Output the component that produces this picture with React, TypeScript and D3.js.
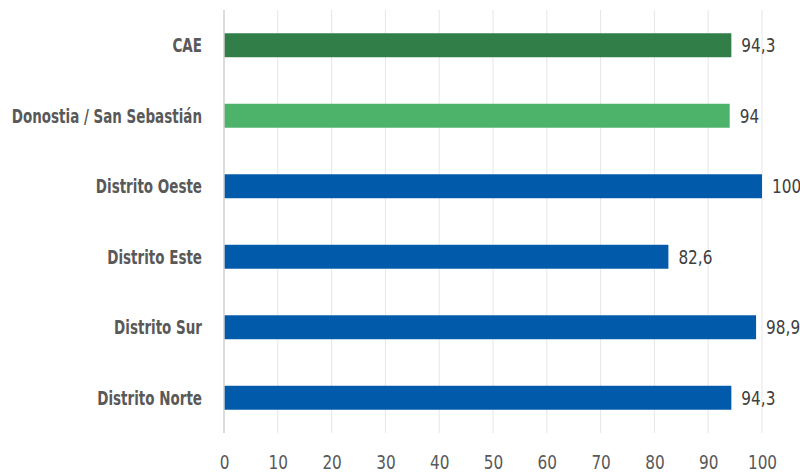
import React, { useRef, useEffect } from "react";
import * as d3 from "d3";

const categories = [
  "CAE",
  "Donostia / San Sebastián",
  "Distrito Oeste",
  "Distrito Este",
  "Distrito Sur",
  "Distrito Norte",
];
const values = [94.3, 94, 100, 82.6, 98.9, 94.3];
const barColors = ["#317E48", "#4DB36A", "#015BAA", "#015BAA", "#015BAA", "#015BAA"];
const xTicks = [0, 10, 20, 30, 40, 50, 60, 70, 80, 90, 100];

const FONT = "'DejaVu Sans Condensed', 'DejaVu Sans', sans-serif";
// the reference uses a narrow face, so squeeze the text horizontally
const LABEL_SQUEEZE = 0.75;
const NUM_SQUEEZE = 0.85;

const App = () => {
  const ref = useRef<SVGSVGElement | null>(null);

  useEffect(() => {
    if (!ref.current) return;
    const svg = d3.select(ref.current);
    svg.selectAll("*").remove();

    const margin = { top: 10, right: 38, bottom: 39, left: 224 };
    const width = 800 - margin.left - margin.right;
    const height = 472 - margin.top - margin.bottom;

    const chart = svg
      .append("g")
      .attr("transform", `translate(${margin.left},${margin.top})`);

    const x = d3.scaleLinear().domain([0, 100]).range([0, width]);
    const y = d3
      .scaleBand()
      .domain(categories)
      .range([0, height])
      .paddingInner(0.66)
      .paddingOuter(0.33);

    // grid lines
    chart
      .append("g")
      .selectAll("line")
      .data(xTicks.slice(1))
      .enter()
      .append("line")
      .attr("x1", (d) => x(d))
      .attr("x2", (d) => x(d))
      .attr("y1", 0)
      .attr("y2", height)
      .attr("stroke", "#E6E6E6")
      .attr("stroke-width", 1);

    // bars
    chart
      .selectAll(".bar")
      .data(values)
      .enter()
      .append("rect")
      .attr("class", "bar")
      .attr("x", 0)
      .attr("y", (_, i) => y(categories[i]) || 0)
      .attr("width", (d) => x(d))
      .attr("height", y.bandwidth())
      .attr("fill", (_, i) => barColors[i]);

    // axis line
    chart
      .append("line")
      .attr("x1", 0)
      .attr("x2", 0)
      .attr("y1", 0)
      .attr("y2", height)
      .attr("stroke", "#D0D0D0")
      .attr("stroke-width", 1.5);

    // value labels
    chart
      .selectAll(".val")
      .data(values)
      .enter()
      .append("text")
      .attr(
        "transform",
        (d, i) =>
          `translate(${x(d) + 10},${(y(categories[i]) || 0) + y.bandwidth() / 2}) scale(${NUM_SQUEEZE},1)`
      )
      .attr("dy", "0.36em")
      .style("font-family", FONT)
      .style("font-size", "20px")
      .style("fill", "#404040")
      .text((d) => String(d).replace(".", ","));

    // category labels
    chart
      .append("g")
      .call(d3.axisLeft(y).tickSize(0))
      .call((g) => g.select(".domain").remove())
      .selectAll("text")
      .attr("x", null)
      .attr("dy", "0.36em")
      .attr("transform", `translate(-22,0) scale(${LABEL_SQUEEZE},1)`)
      .style("font-family", FONT)
      .style("font-size", "20px")
      .style("font-weight", "bold")
      .style("fill", "#595959");

    // x axis
    chart
      .append("g")
      .attr("transform", `translate(0,${height})`)
      .call(d3.axisBottom(x).tickValues(xTicks).tickSize(0))
      .call((g) => g.select(".domain").remove())
      .selectAll("text")
      .attr("y", null)
      .attr("dy", null)
      .attr("transform", `translate(0,36) scale(${NUM_SQUEEZE},1)`)
      .style("font-family", FONT)
      .style("font-size", "20px")
      .style("fill", "#595959");
  }, []);

  return (
    <svg
      ref={ref}
      width={800}
      height={472}
      style={{ position: "absolute", left: 0, top: 0, background: "#fff" }}
    />
  );
};

export default App;
